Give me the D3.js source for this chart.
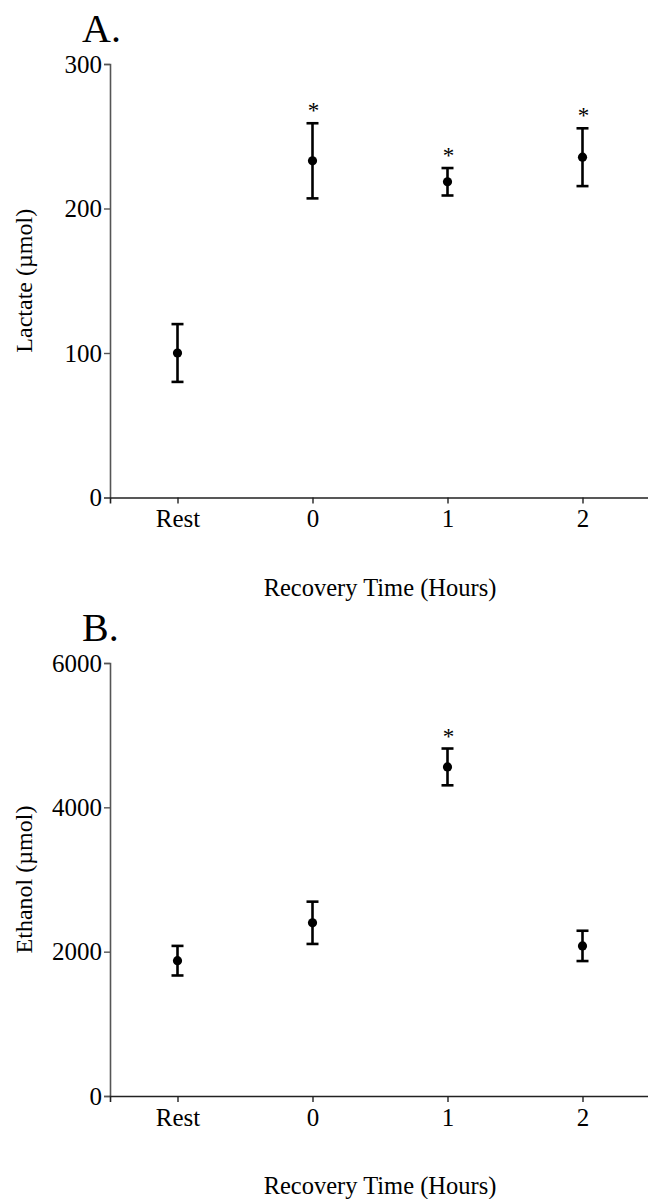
<!DOCTYPE html>
<html>
<head>
<meta charset="utf-8">
<script src="https://cdn.jsdelivr.net/npm/d3@7/dist/d3.min.js"></script>
<style>
  html, body { margin: 0; padding: 0; background: #fff; }
  svg { display: block; }
  text { font-family: "Liberation Serif", "Times New Roman", serif; fill: #000; }
</style>
</head>
<body>
<svg id="chart" width="648" height="1199"></svg>
<script>
// Recovery time points
const categories = ["Rest", "0", "1", "2"];

// Panel A: lactate (µmol), mean ± error
const lactateMean = [100, 233, 218.5, 235.5];
const lactateErr  = [20, 26, 9.5, 20];
const lactateSig  = [false, true, true, true];
const lactateTicks = [0, 100, 200, 300];

// Panel B: ethanol (µmol), mean ± error
const ethanolMean = [1875, 2400, 4560, 2080];
const ethanolErr  = [205, 293, 255, 210];
const ethanolSig  = [false, false, true, false];
const ethanolTicks = [0, 2000, 4000, 6000];

const svg = d3.select("#chart");

const left = 110, right = 650;
const serif = "Liberation Serif, Times New Roman, serif";

function panel(opts) {
  const { top, bottom, letter, yLabel, mean, err, sig, ticks } = opts;
  const g = svg.append("g");

  const x = d3.scalePoint().domain(categories).range([left, right]).padding(0.5);
  const y = d3.scaleLinear().domain([0, ticks[ticks.length - 1]]).range([bottom, top]);

  // y axis
  const ya = g.append("g")
    .attr("transform", `translate(${left},0)`)
    .call(d3.axisLeft(y).tickValues(ticks).tickFormat(d3.format("d")).tickSize(6).tickPadding(2));
  ya.select(".domain").attr("stroke", "#555").attr("stroke-width", 1.6);
  ya.selectAll(".tick line").attr("stroke", "#555").attr("stroke-width", 1.4);
  ya.selectAll(".tick text").attr("font-size", 25).attr("font-family", serif).attr("fill", "#000");

  // x axis
  const xa = g.append("g")
    .attr("transform", `translate(0,${bottom})`)
    .call(d3.axisBottom(x).tickSize(6).tickPadding(6));
  xa.select(".domain").attr("stroke", "#222").attr("stroke-width", 1.6);
  xa.selectAll(".tick line").attr("stroke", "#222").attr("stroke-width", 1.4);
  xa.selectAll(".tick text").attr("font-size", 25).attr("font-family", serif).attr("fill", "#000");

  // panel letter
  g.append("text")
    .attr("x", 82).attr("y", top - 22)
    .attr("font-size", 40)
    .text(letter);

  // axis titles
  g.append("text")
    .attr("transform", `translate(32,${(top + bottom) / 2}) rotate(-90)`)
    .attr("text-anchor", "middle")
    .attr("font-size", 24)
    .text(yLabel);

  g.append("text")
    .attr("x", (left + right) / 2).attr("y", bottom + 98)
    .attr("text-anchor", "middle")
    .attr("font-size", 24.5)
    .text("Recovery Time (Hours)");

  const rows = categories.map((c, i) => ({ c, m: mean[i], e: err[i], s: sig[i] }));
  const capW = 6;

  const pts = g.append("g").selectAll("g").data(rows).join("g");

  // vertical error bar
  pts.append("line")
    .attr("x1", d => x(d.c)).attr("x2", d => x(d.c))
    .attr("y1", d => y(d.m - d.e)).attr("y2", d => y(d.m + d.e))
    .attr("stroke", "#000").attr("stroke-width", 2.6);
  // caps
  pts.append("line")
    .attr("x1", d => x(d.c) - capW).attr("x2", d => x(d.c) + capW)
    .attr("y1", d => y(d.m + d.e)).attr("y2", d => y(d.m + d.e))
    .attr("stroke", "#000").attr("stroke-width", 2.6);
  pts.append("line")
    .attr("x1", d => x(d.c) - capW).attr("x2", d => x(d.c) + capW)
    .attr("y1", d => y(d.m - d.e)).attr("y2", d => y(d.m - d.e))
    .attr("stroke", "#000").attr("stroke-width", 2.6);
  // mean marker
  pts.append("circle")
    .attr("cx", d => x(d.c)).attr("cy", d => y(d.m))
    .attr("r", 4.6).attr("fill", "#000");

  // significance marks
  pts.filter(d => d.s).append("text")
    .attr("x", d => x(d.c) + 1).attr("y", d => y(d.m + d.e) - 5)
    .attr("text-anchor", "middle")
    .attr("font-size", 23)
    .text("*");
}

panel({ top: 64, bottom: 497.5, letter: "A.", yLabel: "Lactate (µmol)",
        mean: lactateMean, err: lactateErr, sig: lactateSig, ticks: lactateTicks });
panel({ top: 663, bottom: 1096, letter: "B.", yLabel: "Ethanol (µmol)",
        mean: ethanolMean, err: ethanolErr, sig: ethanolSig, ticks: ethanolTicks });
</script>
</body>
</html>
